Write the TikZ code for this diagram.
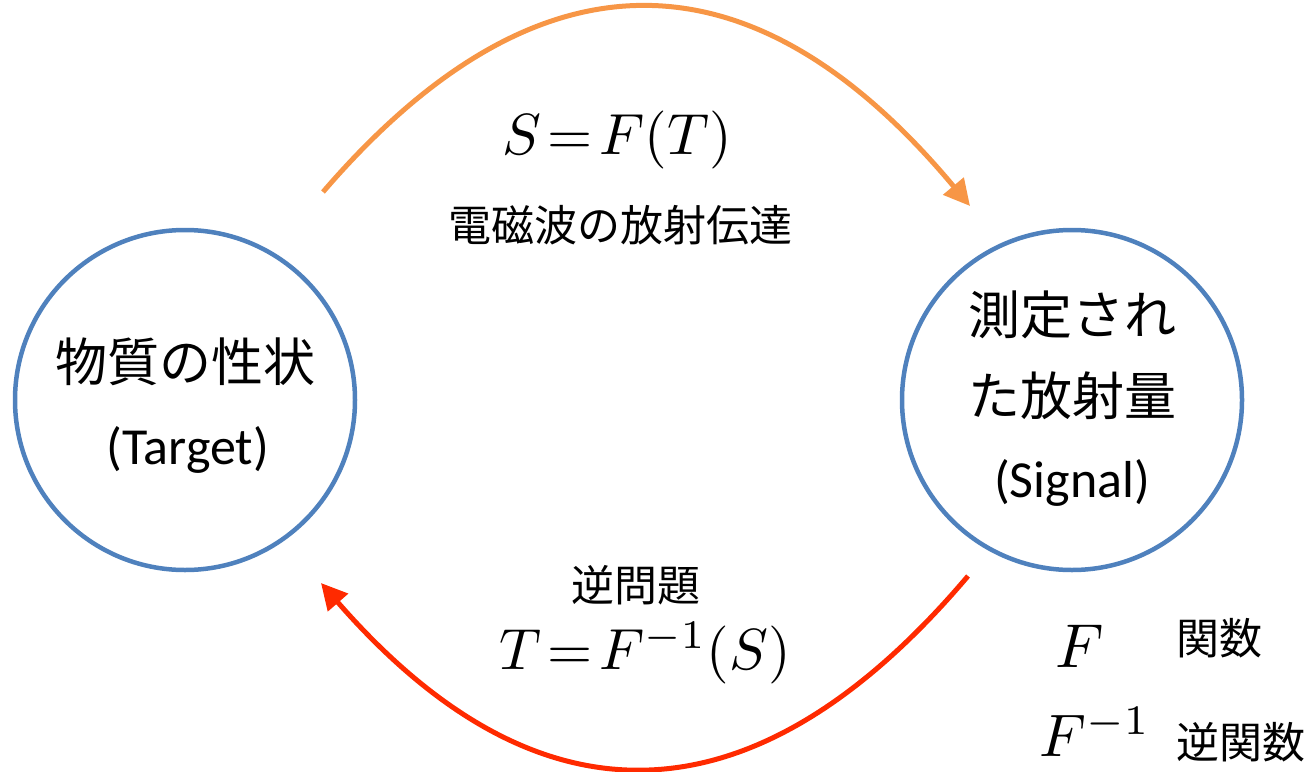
\documentclass[tikz,border=0pt]{standalone}
\usepackage{fontspec}
\usetikzlibrary{arrows.meta}
\newfontfamily\jpfont{Noto Sans CJK JP}
\newfontfamily\carlfont{Carlito}
\definecolor{cblue}{HTML}{4F81BD}
\definecolor{corange}{HTML}{F79646}
\definecolor{cred}{HTML}{FF2A00}
\newcommand{\bigmath}[2]{\scalebox{#1}{$\thickmuskip=2mu #2$}}
\tikzset{
  circ/.style={circle, draw=cblue, line width=4.5pt, minimum size=340pt, inner sep=0pt},
  jp/.style={font=\jpfont\fontsize{#1}{#1}\selectfont, inner sep=0pt},
  lat/.style={font=\carlfont\fontsize{#1}{#1}\selectfont, inner sep=0pt},
  mth/.style={font=\fontsize{10}{10}\selectfont, inner sep=0pt},
  fwd/.style={draw=corange, line width=5pt, -{Triangle[length=26pt,width=26pt]}},
  inv/.style={draw=cred, line width=5pt, -{Triangle[length=26pt,width=26pt]}}
}
\begin{document}
\begin{tikzpicture}[x=1pt,y=-1pt]
\useasboundingbox (0,0) rectangle (1308,771);
\node[circ] (target) at (185,400) {};
\node[circ] (signal) at (1072,400) {};
\node[jp=52] (t1) at (185,362) {物質の性状};
\node[lat=52] (t2) at (188,450) {(Target)};
\node[jp=52] (s1) at (1072,315) {測定され};
\node[jp=52] (s2) at (1072,396) {た放射量};
\node[lat=52] (s3) at (1072,483) {(Signal)};
\node[mth] (fwdeq) at (617,140) {\bigmath{5.8}{S=F(T)}};
\node[jp=43] (fwdlab) at (620,225) {電磁波の放射伝達};
\node[jp=43] (invlab) at (636,585) {逆問題};
\node[mth] (inveq) at (645,653) {\bigmath{5.8}{T=F^{-1}(S)}};
\node[mth] (legF) at (1080,646) {\bigmath{6.2}{F}};
\node[jp=43] (legFt) at (1219,638) {関数};
\node[mth] (legFi) at (1095,732) {\bigmath{6}{F^{-1}}};
\node[jp=43] (legFit) at (1241,742) {逆関数};
\coordinate (o1) at (323,192);
\coordinate (o2) at (970,206);
\coordinate (r1) at (968,576);
\coordinate (r2) at (321,583);
\draw[fwd] (o1) .. controls (538,-58) and (753,-54) .. (o2);
\draw[inv] (r1) .. controls (753,830) and (537,831) .. (r2);
\end{tikzpicture}
\end{document}
